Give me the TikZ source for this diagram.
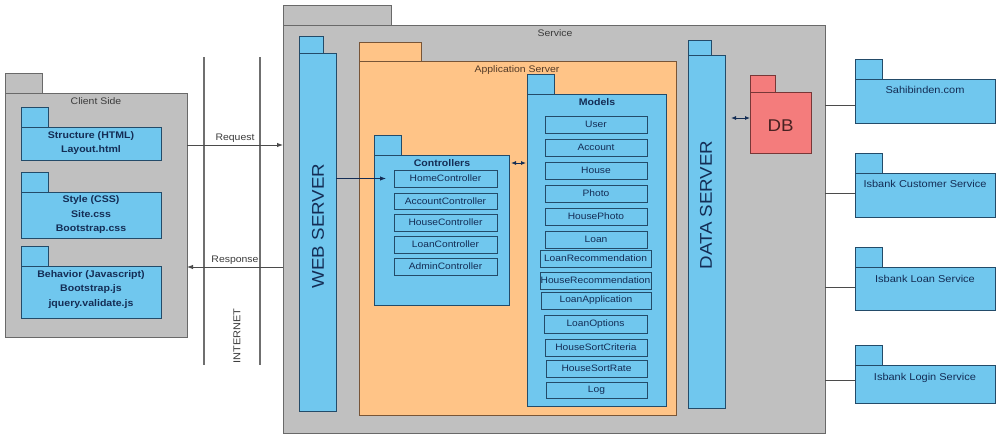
\documentclass[tikz,border=0pt]{standalone}
\usepackage{fontspec}
\setmainfont{Liberation Sans}[FakeStretch=1.1]
\usetikzlibrary{fit,arrows.meta}
\definecolor{pkblue}{RGB}{112,199,238}
\definecolor{pkblueD}{RGB}{35,75,105}
\definecolor{txtblue}{RGB}{20,45,85}
\definecolor{pkgray}{RGB}{192,192,192}
\definecolor{pkgrayD}{RGB}{105,105,105}
\definecolor{pkorange}{RGB}{255,196,135}
\definecolor{pkorangeD}{RGB}{120,85,55}
\definecolor{pkred}{RGB}{244,124,124}
\definecolor{pkredD}{RGB}{120,55,55}
\definecolor{lblgray}{RGB}{60,60,60}
\definecolor{linegray}{RGB}{75,75,75}
\newcommand\pkgshape[8]{%
  \node[#2, fit={(#3,#4)(#6,#5)}] (#1-tab) {};
  \node[#2, fit={(#3,#5)(#7,#8)}] (#1) {};
}
\newcommand\itm[6]{%
  \node[item, fit={(#2,#3)(#4,#5)}, label={[itemtxt]center:#6}] (#1) {};
}
\tikzset{
  pk/.style={line width=0.9pt, inner sep=0pt, outer sep=0pt},
  grayp/.style={pk, draw=pkgrayD, fill=pkgray},
  bluep/.style={pk, draw=pkblueD, fill=pkblue},
  orangep/.style={pk, draw=pkorangeD, fill=pkorange},
  redp/.style={pk, draw=pkredD, fill=pkred},
  item/.style={pk, draw=pkblueD, fill=pkblue},
  itemtxt/.style={font=\fontsize{9.3}{11}\selectfont, text=txtblue, inner sep=0pt},
  lbl/.style={font=\fontsize{9.5}{11}\selectfont, text=lblgray, inner sep=1pt},
  btxt/.style={font=\bfseries\fontsize{9.6}{14.5}\selectfont, text=txtblue, align=center, inner sep=0pt},
  extxt/.style={font=\fontsize{10}{12}\selectfont, text=txtblue, inner sep=0pt},
  bigtxt/.style={font=\fontsize{17}{20}\selectfont, text=txtblue, rotate=90, inner sep=0pt},
  arr/.style={line width=0.9pt, draw=linegray, -{Latex[length=6pt,width=4.5pt]}},
  darr/.style={line width=0.9pt, draw=txtblue, {Latex[length=5pt,width=4pt]}-{Latex[length=5pt,width=4pt]}},
  conn/.style={line width=0.9pt, draw=linegray},
  netline/.style={line width=1.4pt, draw=linegray!80},
}
\begin{document}
\begin{tikzpicture}[x=1pt,y=-1pt]
\useasboundingbox[fill=white] (0,0) rectangle (998,437);
% Client side
\pkgshape{cs}{grayp}{5}{73}{93}{42}{187}{337}
\node[lbl] (csl) at (96,101) {Client Side};
\pkgshape{st}{bluep}{21}{107}{127}{48}{161}{160}
\node[btxt] (stl) at (91,143) {Structure (HTML)\\Layout.html};
\pkgshape{sy}{bluep}{21}{172}{192}{48}{161}{238}
\node[btxt] (syl) at (91,215) {Style (CSS)\\Site.css\\Bootstrap.css};
\pkgshape{bh}{bluep}{21}{246}{266}{48}{161}{318}
\node[btxt] (bhl) at (91,289.5) {Behavior (Javascript)\\Bootstrap.js\\jquery.validate.js};
% Internet
\draw[netline] (204,57) -- (204,365);
\draw[netline] (260,57) -- (260,365);
\node[lbl, rotate=90, font=\fontsize{10}{12}\selectfont] (inet) at (237,336) {INTERNET};
% Service
\pkgshape{svc}{grayp}{283}{5}{25}{391}{825}{433}
\node[lbl] (svcl) at (555,33) {Service};
\pkgshape{web}{bluep}{299}{36}{53}{323}{336}{411}
\node[bigtxt] (webl) at (318,226) {WEB SERVER};
\pkgshape{app}{orangep}{359}{42}{61}{421}{676}{415}
\node[lbl, text=pkorangeD!70!black] (appl) at (517,70) {Application Server};
% Controllers
\pkgshape{ctrl}{bluep}{374}{135}{155}{401}{509}{305}
\node[btxt] (ctrll) at (442,163) {Controllers};
\itm{home}{394}{170}{497}{187}{HomeController}
\itm{acct}{394}{193}{497}{209}{AccountController}
\itm{housec}{394}{214}{497}{231}{HouseController}
\itm{loanc}{394}{236}{497}{253}{LoanController}
\itm{admin}{394}{258}{497}{275}{AdminController}
% Models
\pkgshape{mdl}{bluep}{527}{74}{94}{554}{666}{406}
\node[btxt] (mdll) at (597,102) {Models};
\itm{user}{545}{116}{647}{133}{User}
\itm{account}{545}{139}{647}{156}{Account}
\itm{house}{545}{162}{647}{179}{House}
\itm{photo}{545}{185}{647}{202}{Photo}
\itm{hphoto}{545}{208}{647}{225}{HousePhoto}
\itm{loan}{545}{231}{647}{248}{Loan}
\itm{lrec}{540}{250}{651}{267}{LoanRecommendation}
\itm{hrec}{540}{272}{651}{289}{HouseRecommendation}
\itm{lapp}{541}{292}{651}{309}{LoanApplication}
\itm{lopt}{544}{315}{647}{333}{LoanOptions}
\itm{hsc}{545}{339}{647}{356}{HouseSortCriteria}
\itm{hsr}{546}{360}{647}{377}{HouseSortRate}
\itm{log}{546}{382}{647}{398}{Log}
% Data server and DB
\pkgshape{ds}{bluep}{688}{40}{55}{711}{725}{408}
\node[bigtxt] (dsl) at (706,205) {DATA SERVER};
\pkgshape{db}{redp}{750}{75}{92}{775}{811}{153}
\node[font=\fontsize{17}{20}\selectfont, text=pkredD!60!black, inner sep=0pt] (dbl) at (780.5,126) {DB};
% External services
\pkgshape{ex1}{bluep}{855}{59}{79}{882}{995}{123}
\node[extxt, below=7pt] (ex1l) at (ex1.north) {Sahibinden.com};
\pkgshape{ex2}{bluep}{855}{153}{173}{882}{995}{217}
\node[extxt, below=7pt] (ex2l) at (ex2.north) {Isbank Customer Service};
\pkgshape{ex3}{bluep}{855}{247}{267}{882}{995}{310}
\node[extxt, below=8pt] (ex3l) at (ex3.north) {Isbank Loan Service};
\pkgshape{ex4}{bluep}{855}{345}{365}{882}{995}{403}
\node[extxt, below=8pt] (ex4l) at (ex4.north) {Isbank Login Service};
% Connectors
\draw[arr] (cs.east |- 0,145) -- node[lbl, above=1pt] (rql) {Request} (svc.west |- 0,145);
\draw[arr] (svc.west |- 0,267) -- node[lbl, above=1pt] (rsl) {Response} (cs.east |- 0,267);
\draw[arr, draw=txtblue] (web.east |- home.west) -- ([xshift=-8pt]home.west);
\draw[darr] ([xshift=2pt]ctrl.east |- 0,163) -- ([xshift=-1pt]mdl.west |- 0,163);
\draw[darr] ([xshift=6pt]ds.east |- 0,118) -- (db.west |- 0,118);
\draw[conn] (svc.east |- 0,105) -- (ex1.west |- 0,105);
\draw[conn] (svc.east |- 0,193) -- (ex2.west |- 0,193);
\draw[conn] (svc.east |- 0,287) -- (ex3.west |- 0,287);
\draw[conn] (svc.east |- 0,380) -- (ex4.west |- 0,380);
\end{tikzpicture}
\end{document}
